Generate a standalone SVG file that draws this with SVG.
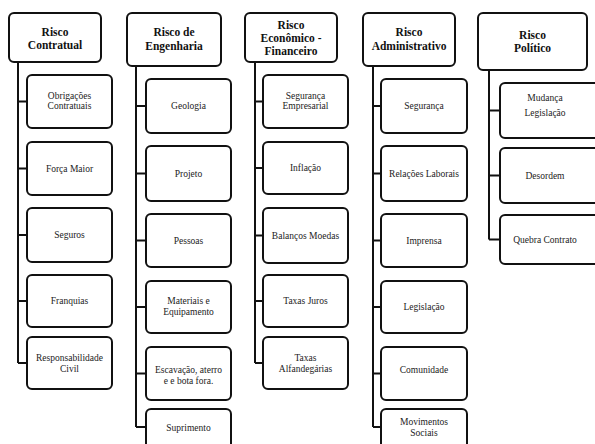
<svg xmlns="http://www.w3.org/2000/svg" width="595" height="444" viewBox="0 0 595 444">
<style>
.b{fill:#fff;stroke:#111;stroke-width:2}
.c path{fill:none;stroke:#111;stroke-width:2}
.h{font-weight:bold;font-size:11.5px;fill:#111;text-anchor:middle}
.t{font-size:9.5px;fill:#222;text-anchor:middle}
</style>
<rect width="595" height="444" fill="#fff"/>
<g class="c" id="connectors">
<path d="M18 62V363M18 101.5H27M18 168.5H27M18 235H27M18 301H27M18 363H27"/>
<path d="M136 66V427M136 106H146M136 173.5H146M136 240.5H146M136 307H146M136 373.5H146M136 427H146"/>
<path d="M255 62V363M255 101.5H263M255 168H263M255 235.5H263M255 301H263M255 363H263"/>
<path d="M373 66V427M373 106H381M373 173.5H381M373 240.5H381M373 307H381M373 373.5H381M373 427H381"/>
<path d="M489 70V239.5M489 110.5H500M489 175.5H500M489 239.5H500"/>
</g>
<g font-family="Liberation Serif, DejaVu Serif, serif">
<g id="h1"><rect class="b" x="9" y="13" width="92" height="49" rx="5"/><text class="h" x="55" y="36">Risco</text><text class="h" x="55" y="49">Contratual</text></g>
<g id="c1a"><rect class="b" x="27" y="75" width="85" height="53" rx="5"/><text class="t" x="69.5" y="99">Obrigações</text><text class="t" x="69.5" y="109">Contratuais</text></g>
<g id="c1b"><rect class="b" x="27" y="142" width="85" height="53" rx="5"/><text class="t" x="69.5" y="171.5">Força Maior</text></g>
<g id="c1c"><rect class="b" x="27" y="208" width="85" height="54" rx="5"/><text class="t" x="69.5" y="238">Seguros</text></g>
<g id="c1d"><rect class="b" x="27" y="275" width="85" height="52" rx="5"/><text class="t" x="69.5" y="304">Franquias</text></g>
<g id="c1e"><rect class="b" x="27" y="337" width="85" height="52" rx="5"/><text class="t" x="69.5" y="361">Responsabilidade</text><text class="t" x="69.5" y="372">Civil</text></g>

<g id="h2"><rect class="b" x="127" y="13" width="94" height="53" rx="5"/><text class="h" x="174" y="36">Risco de</text><text class="h" x="174" y="50">Engenharia</text></g>
<g id="c2a"><rect class="b" x="146" y="79" width="85" height="54" rx="5"/><text class="t" x="188.5" y="109">Geologia</text></g>
<g id="c2b"><rect class="b" x="146" y="146" width="85" height="55" rx="5"/><text class="t" x="188.5" y="176.5">Projeto</text></g>
<g id="c2c"><rect class="b" x="146" y="214" width="85" height="53" rx="5"/><text class="t" x="188.5" y="243.5">Pessoas</text></g>
<g id="c2d"><rect class="b" x="146" y="281" width="85" height="52" rx="5"/><text class="t" x="188.5" y="304">Materiais e</text><text class="t" x="188.5" y="315">Equipamento</text></g>
<g id="c2e"><rect class="b" x="146" y="347" width="85" height="53" rx="5"/><text class="t" x="188.5" y="373">Escavação, aterro</text><text class="t" x="188.5" y="384">e e bota fora.</text></g>
<g id="c2f"><rect class="b" x="146" y="409" width="85" height="46" rx="5"/><text class="t" x="188.5" y="431">Suprimento</text></g>

<g id="h3"><rect class="b" x="245" y="13" width="92" height="49" rx="5"/><text class="h" x="291" y="29">Risco</text><text class="h" x="291" y="42">Econômico -</text><text class="h" x="291" y="55">Financeiro</text></g>
<g id="c3a"><rect class="b" x="263" y="75" width="85" height="53" rx="5"/><text class="t" x="305.5" y="99">Segurança</text><text class="t" x="305.5" y="109">Empresarial</text></g>
<g id="c3b"><rect class="b" x="263" y="142" width="85" height="52" rx="5"/><text class="t" x="305.5" y="171">Inflação</text></g>
<g id="c3c"><rect class="b" x="263" y="208" width="85" height="55" rx="5"/><text class="t" x="305.5" y="238.5">Balanços Moedas</text></g>
<g id="c3d"><rect class="b" x="263" y="275" width="85" height="52" rx="5"/><text class="t" x="305.5" y="304">Taxas Juros</text></g>
<g id="c3e"><rect class="b" x="263" y="337" width="85" height="52" rx="5"/><text class="t" x="305.5" y="361">Taxas</text><text class="t" x="305.5" y="372">Alfandegárias</text></g>

<g id="h4"><rect class="b" x="363" y="13" width="92" height="53" rx="5"/><text class="h" x="409" y="36">Risco</text><text class="h" x="409" y="50">Administrativo</text></g>
<g id="c4a"><rect class="b" x="381" y="79" width="86" height="54" rx="5"/><text class="t" x="424" y="109">Segurança</text></g>
<g id="c4b"><rect class="b" x="381" y="146" width="86" height="55" rx="5"/><text class="t" x="424" y="176.5">Relações Laborais</text></g>
<g id="c4c"><rect class="b" x="381" y="214" width="86" height="53" rx="5"/><text class="t" x="424" y="243.5">Imprensa</text></g>
<g id="c4d"><rect class="b" x="381" y="281" width="86" height="52" rx="5"/><text class="t" x="424" y="310">Legislação</text></g>
<g id="c4e"><rect class="b" x="381" y="347" width="86" height="53" rx="5"/><text class="t" x="424" y="373">Comunidade</text></g>
<g id="c4f"><rect class="b" x="381" y="409" width="86" height="46" rx="5"/><text class="t" x="424" y="425">Movimentos</text><text class="t" x="424" y="436">Sociais</text></g>

<g id="h5"><rect class="b" x="478" y="13" width="109" height="57" rx="5"/><text class="h" x="532.5" y="39">Risco</text><text class="h" x="532.5" y="52">Político</text></g>
<g id="c5a"><rect class="b" x="500" y="83" width="100" height="55" rx="5"/><text class="t" x="545" y="101">Mudança</text><text class="t" x="545" y="116">Legislação</text></g>
<g id="c5b"><rect class="b" x="500" y="148" width="100" height="55" rx="5"/><text class="t" x="545" y="178.5">Desordem</text></g>
<g id="c5c"><rect class="b" x="500" y="215" width="100" height="49" rx="5"/><text class="t" x="545" y="242.5">Quebra Contrato</text></g>
</g>
</svg>
